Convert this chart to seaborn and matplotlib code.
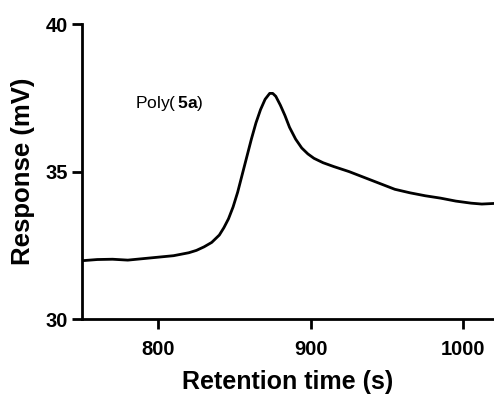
import numpy as np
import pandas as pd
import seaborn as sns
import matplotlib.pyplot as plt

# Chromatogram trace
retention_time = [750, 760, 770, 780, 790, 800, 810, 820, 825, 830, 835, 840, 843,
                  846, 849, 852, 855, 858, 861, 864, 867, 870, 873, 875, 877, 880,
                  883, 886, 890, 894, 898, 902, 908, 915, 925, 935, 945, 955, 965,
                  975, 985, 995, 1005, 1012, 1020]
response = [31.98, 32.02, 32.03, 32.0, 32.05, 32.1, 32.15, 32.25, 32.33, 32.45, 32.6,
            32.85, 33.1, 33.4, 33.8, 34.3, 34.9, 35.5, 36.1, 36.65, 37.1, 37.45,
            37.65, 37.65, 37.55, 37.25, 36.9, 36.5, 36.1, 35.8, 35.6, 35.45, 35.3,
            35.17, 35.0, 34.8, 34.6, 34.4, 34.28, 34.18, 34.1, 34.0, 33.93, 33.9,
            33.92]
x_ticks = [800, 900, 1000]
y_ticks = [30, 35, 40]

df = pd.DataFrame({'time': retention_time, 'response': response})

sns.set_style('ticks')
plt.rcParams['font.family'] = ['Liberation Sans', 'DejaVu Sans']
plt.rcParams['mathtext.fontset'] = 'custom'
plt.rcParams['mathtext.rm'] = 'Liberation Sans'
plt.rcParams['mathtext.bf'] = 'Liberation Sans:bold'
plt.rcParams['text.color'] = 'black'
plt.rcParams['axes.labelcolor'] = 'black'
plt.rcParams['xtick.color'] = 'black'
plt.rcParams['ytick.color'] = 'black'
plt.rcParams['axes.edgecolor'] = 'black'

fig = plt.figure(figsize=(4.94, 3.94), dpi=100)
ax = fig.add_axes([0.166, 0.19, 0.834, 0.749])

sns.lineplot(data=df, x='time', y='response', color='black', linewidth=2, ax=ax)

ax.set_xlim(750, 1020)
ax.set_ylim(30, 40)
ax.set_xticks(x_ticks)
ax.set_yticks(y_ticks)
ax.tick_params(width=2, length=7, labelsize=14.5, direction='out')
ax.tick_params(axis='x', pad=8)
ax.tick_params(axis='y', pad=3)
for lab in ax.get_xticklabels() + ax.get_yticklabels():
    lab.set_fontweight('bold')
sns.despine(ax=ax)
ax.spines['left'].set_linewidth(2)
ax.spines['bottom'].set_linewidth(2)

ax.set_xlabel('Retention time (s)', fontsize=18, fontweight='bold', labelpad=8)
ax.set_ylabel('Response (mV)', fontsize=18.5, fontweight='bold', labelpad=8)

ax.text(785, 37.3, r'Poly($\,\mathbf{5a}$)', fontsize=12.5, va='center')

plt.savefig('out.png', dpi=100)
